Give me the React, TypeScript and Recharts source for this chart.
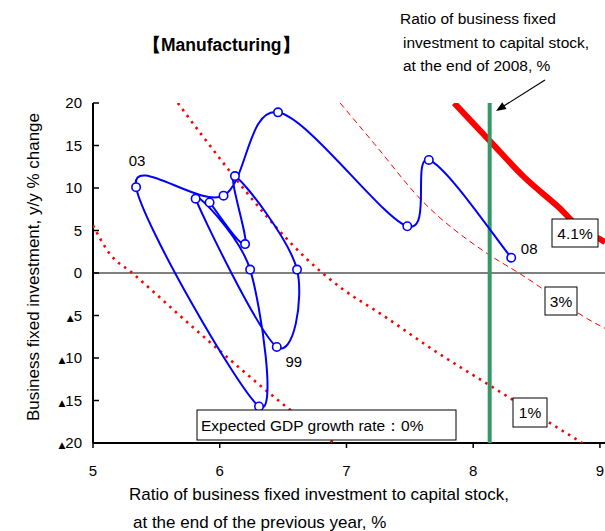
import { ScatterChart, Scatter, XAxis, YAxis, ReferenceLine } from "recharts";

const FONT = '"Liberation Sans", Arial, sans-serif';

// Manufacturing, 95 -> 08: I/K ratio at end of previous year (%), investment y/y (%)
const ratioPrev = [5.92, 6.2, 6.12, 6.61, 6.45, 5.81, 6.24, 6.31, 5.34, 6.03, 6.46, 7.48, 7.65, 8.3];
const investGrowth = [8.3, 3.4, 11.4, 0.4, -8.7, 8.75, 0.4, -15.7, 10.1, 9.1, 18.9, 5.5, 13.3, 1.8];
const yearTags = ["", "", "", "", "99", "", "", "", "03", "", "05", "", "", "08"];

// expected GDP growth rate curves
const g0X = [5.0, 5.13, 5.31, 5.79, 6.53, 6.9];
const g0Y = [5.6, 2.3, 0, -6.4, -15.8, -20];
const g1X = [5.67, 5.85, 6.81, 6.98, 7.27, 7.69, 8.15, 8.86];
const g1Y = [20, 16.4, 0, -2.0, -4.8, -9.1, -13.4, -20];
const g3X = [6.95, 7.22, 7.59, 8.11, 8.36, 9.0, 9.04];
const g3Y = [20, 15.2, 8.6, 2.3, 0, -6.2, -6.5];
const g41X = [7.85, 8.14, 8.4, 8.67, 8.9, 9.0, 9.04];
const g41Y = [20, 15.4, 11.3, 7.8, 4.6, 4.0, 3.6];

// ratio at the end of 2008
const ratioEnd2008 = 8.13;

const xTicks = [5, 6, 7, 8, 9];
const yTicks = [20, 15, 10, 5, 0, -5, -10, -15, -20];

const toPoints = (xs: number[], ys: number[], tags?: string[]) =>
  xs.map((x, i) => ({ x, y: ys[i], tag: tags ? tags[i] : "" }));

const mfgData = toPoints(ratioPrev, investGrowth, yearTags);
const curve0 = toPoints(g0X, g0Y);
const curve1 = toPoints(g1X, g1Y);
const curve3 = toPoints(g3X, g3Y);
const curve41 = toPoints(g41X, g41Y);
const greenData = toPoints([ratioEnd2008, ratioEnd2008], [-20, 20]);

// label offsets (text centre / baseline relative to the point)
const tagOffsets: Record<string, [number, number]> = {
  "03": [1, -21],
  "05": [-2, -12],
  "99": [17, 20],
  "08": [18, -4],
};

// excel-like smoothed line (catmull-rom as bezier)
function smoothCurve(context: any) {
  let pts: number[][] = [];
  return {
    areaStart() {},
    areaEnd() {},
    lineStart() {
      pts = [];
    },
    lineEnd() {
      if (!pts.length) return;
      context.moveTo(pts[0][0], pts[0][1]);
      const t = 1 / 6;
      for (let i = 0; i < pts.length - 1; i++) {
        const p0 = pts[i - 1] || pts[i];
        const p1 = pts[i];
        const p2 = pts[i + 1];
        const p3 = pts[i + 2] || p2;
        context.bezierCurveTo(
          p1[0] + (p2[0] - p0[0]) * t,
          p1[1] + (p2[1] - p0[1]) * t,
          p2[0] - (p3[0] - p1[0]) * t,
          p2[1] - (p3[1] - p1[1]) * t,
          p2[0],
          p2[1]
        );
      }
    },
    point(x: number, y: number) {
      pts.push([+x, +y]);
    },
  };
}

const noShape = () => <g />;

const MfgDot = (props: any) => {
  const { cx, cy, payload } = props;
  const tag = payload?.tag;
  const off = tag ? tagOffsets[tag] : null;
  return (
    <g>
      <circle cx={cx} cy={cy} r={4.2} fill="#fff" stroke="#0000ff" strokeWidth={1.6} />
      {off && (
        <text
          x={cx + off[0]}
          y={cy + off[1]}
          textAnchor="middle"
          fontSize={15}
          fontFamily={FONT}
          fill="#000"
        >
          {tag}
        </text>
      )}
    </g>
  );
};

const YTick = (props: any) => {
  const { x, y, payload } = props;
  const v = payload.value;
  return (
    <g>
      <line x1={x + 11} x2={x + 17} y1={y} y2={y} stroke="#000" strokeWidth={1.5} />
      <text x={x} y={y} dy={5} textAnchor="end" fontSize={15} fontFamily={FONT} fill="#000">
        {v < 0 && (
          <tspan fontSize={9} fontFamily='"DejaVu Sans", sans-serif'>
            ▲
          </tspan>
        )}
        {Math.abs(v)}
      </text>
    </g>
  );
};

const boxText = { fontSize: 15.5, fontFamily: FONT, fill: "#000" };

export default function App() {
  return (
    <div style={{ position: "absolute", left: 0, top: 0, width: 605, height: 531, background: "#fff" }}>
      <ScatterChart
        width={605}
        height={531}
        margin={{ top: 103, right: 0, bottom: 58, left: 33 }}
      >
        <XAxis
          type="number"
          dataKey="x"
          domain={[5, 9.04]}
          ticks={xTicks}
          interval={0}
          allowDataOverflow
          height={30}
          tickSize={5}
          tickMargin={17}
          axisLine={{ stroke: "#000", strokeWidth: 2 }}
          tickLine={{ stroke: "#000", strokeWidth: 1.5 }}
          tick={{ fontSize: 15, fill: "#000", fontFamily: FONT }}
        />
        <YAxis
          type="number"
          dataKey="y"
          domain={[-20, 20]}
          ticks={yTicks}
          interval={0}
          allowDataOverflow
          width={60}
          tickSize={0}
          tickMargin={11}
          axisLine={{ stroke: "#000", strokeWidth: 2 }}
          tickLine={false}
          tick={<YTick />}
        />
        <ReferenceLine y={0} stroke="#000" strokeWidth={1} />
        <Scatter
          data={curve0}
          shape={noShape}
          line={{ stroke: "#ff0000", strokeWidth: 2.6, strokeDasharray: "2.5 5" }}
          lineJointType="monotoneX"
          isAnimationActive={false}
        />
        <Scatter
          data={curve1}
          shape={noShape}
          line={{ stroke: "#ff0000", strokeWidth: 2.6, strokeDasharray: "2.5 5" }}
          lineJointType="monotoneX"
          isAnimationActive={false}
        />
        <Scatter
          data={curve3}
          shape={noShape}
          line={{ stroke: "#ff0000", strokeWidth: 1, strokeDasharray: "6 4" }}
          lineJointType="monotoneX"
          isAnimationActive={false}
        />
        <Scatter
          data={curve41}
          shape={noShape}
          line={{ stroke: "#ff0000", strokeWidth: 6 }}
          lineJointType="monotoneX"
          isAnimationActive={false}
        />
        <Scatter
          data={greenData}
          shape={noShape}
          line={{ stroke: "#339966", strokeWidth: 4 }}
          isAnimationActive={false}
        />
        <Scatter
          data={mfgData}
          shape={<MfgDot />}
          line={{ stroke: "#0000ff", strokeWidth: 2 }}
          lineJointType={smoothCurve as any}
          isAnimationActive={false}
        />
      </ScatterChart>

      <svg
        width={605}
        height={531}
        style={{ position: "absolute", left: 0, top: 0, pointerEvents: "none" }}
      >
        <text x={143} y={51} fontSize={17.5} fontWeight="bold" fontFamily={FONT} fill="#000">
          【Manufacturing】
        </text>

        <g fontSize={15.5} fontFamily={FONT} fill="#000">
          <text x={400} y={24}>Ratio of business fixed</text>
          <text x={403} y={48}>investment to capital stock,</text>
          <text x={403} y={71}>at the end of 2008, %</text>
        </g>
        <line x1={545} y1={80} x2={503} y2={106.5} stroke="#000" strokeWidth={1.2} />
        <polygon points="496,111 506.5,109.1 502.3,102.3" fill="#000" />

        <rect x={552} y={219} width={46} height={28} fill="#fff" stroke="#000" />
        <text x={575} y={239} textAnchor="middle" {...boxText}>4.1%</text>
        <rect x={545} y={287} width={32} height={28} fill="#fff" stroke="#000" />
        <text x={561} y={307} textAnchor="middle" {...boxText}>3%</text>
        <rect x={513} y={398} width={34} height={29} fill="#fff" stroke="#000" />
        <text x={530} y={418} textAnchor="middle" {...boxText}>1%</text>
        <rect x={197} y={410} width={259} height={30} fill="#fff" stroke="#000" />
        <text x={201} y={431} {...boxText}>Expected GDP growth rate：0%</text>

        <g fontSize={17} fontFamily={FONT} fill="#000">
          <text x={129} y={500}>Ratio of business fixed investment to capital stock,</text>
          <text x={133} y={528}>at the end of the previous year, %</text>
          <text x={0} y={0} textAnchor="middle" transform="translate(39,267) rotate(-90)">
            Business fixed investment, y/y % change
          </text>
        </g>
      </svg>
    </div>
  );
}
